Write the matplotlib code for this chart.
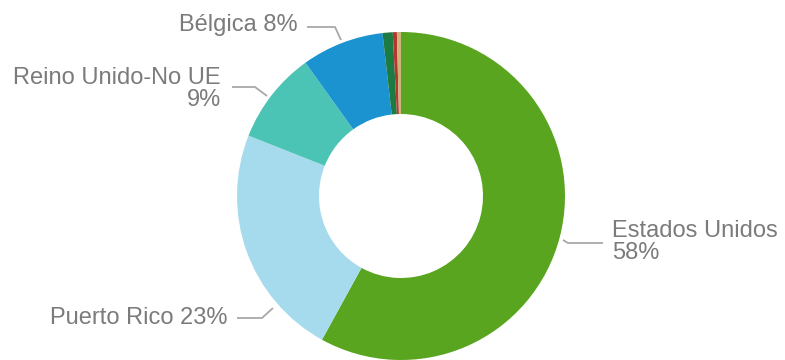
import matplotlib
matplotlib.use('Agg')
import matplotlib.pyplot as plt

# shares per country (percent), clockwise from 12 o'clock
countries = ['Estados Unidos', 'Puerto Rico', 'Reino Unido-No UE', 'Bélgica',
             'Otros 1', 'Otros 2', 'Otros 3']
shares = [58.0, 23.0, 9.1, 8.1, 1.0, 0.4, 0.4]
colors = ['#5aa51f', '#a6dbed', '#4cc4b5', '#1b93d0', '#1d7a42', '#b5352f', '#cdb47a']

# label text shown for the big slices
label_text = {
    'Estados Unidos': 'Estados Unidos\n58%',
    'Puerto Rico': 'Puerto Rico 23%',
    'Reino Unido-No UE': 'Reino Unido-No UE\n9%',
    'Bélgica': 'Bélgica 8%',
}

W, H = 785, 360
plt.rcParams['font.family'] = ['Liberation Sans', 'DejaVu Sans']

fig = plt.figure(figsize=(W / 100, H / 100), dpi=100)
ax = fig.add_axes([0, 0, 1, 1])
ax.set_xlim(0, W)
ax.set_ylim(0, H)
ax.axis('off')

def py(y):
    return H - y

cx, cy, r = 401, 196, 164
ax.pie(shares, colors=colors, startangle=90, counterclock=False,
       radius=r, center=(cx, py(cy)), frame=True,
       wedgeprops=dict(width=r * 0.5, linewidth=0))
ax.set_xlim(0, W)
ax.set_ylim(0, H)
ax.axis('off')

# label placement: (connector points in pixels, text x, text y, alignment)
layout = {
    'Bélgica': ([(341, 40), (335, 27), (307, 27)], 298, 25, 'right'),
    'Reino Unido-No UE': ([(267, 96), (255, 87), (232, 87)], 221, 89, 'right'),
    'Estados Unidos': ([(563, 240), (568, 243), (603, 243)], 612, 242, 'left'),
    'Puerto Rico': ([(273, 308), (262, 318), (237, 318)], 227, 318, 'right'),
}

for name, (pts, tx, ty, ha) in layout.items():
    xs = [p[0] for p in pts]
    ys = [py(p[1]) for p in pts]
    ax.plot(xs, ys, color='#a8a8a8', lw=1.3, solid_capstyle='butt')
    ax.text(tx, py(ty), label_text[name], ha=ha, va='center',
            fontsize=17, color='#7b7b7b', linespacing=1.05,
            multialignment=ha)

fig.savefig('out.png', dpi=100, facecolor='white')
